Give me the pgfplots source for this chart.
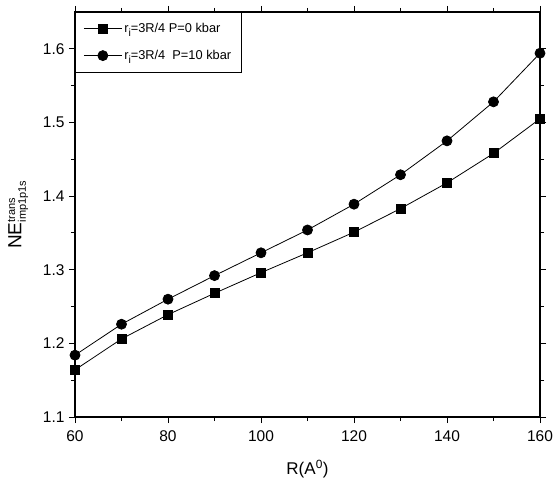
\documentclass[border=0pt]{standalone}
\usepackage{fontspec}
\setmainfont{Liberation Sans}
\usepackage{pgfplots}
\pgfplotsset{compat=1.18}
\newcommand{\ri}{r\raisebox{-4pt}{\fontsize{10.5}{12}\selectfont i}}
\begin{document}
\begin{tikzpicture}
\useasboundingbox (-75pt,-73pt) rectangle (478pt,417pt);
\begin{axis}[
  scale only axis, width=465pt, height=405pt,
  xmin=60, xmax=160, ymin=1.1, ymax=1.65,
  xtick={60,80,100,120,140,160}, minor xtick={70,90,110,130,150},
  ytick={1.1,1.2,1.3,1.4,1.5,1.6}, minor ytick={1.15,1.25,1.35,1.45,1.55},
  tick align=outside, major tick length=6pt, minor tick length=4pt,
  tick style={black, line width=0.9pt},
  axis line style={line width=1.3pt},
  /pgf/number format/assume math mode=true,
  /pgf/number format/fixed, /pgf/number format/precision=1,
  /pgf/number format/fixed zerofill,
  xticklabel style={/pgf/number format/precision=0, yshift=-4pt},
  yticklabel style={xshift=-1pt},
  tick label style={font=\fontsize{15.5}{17}\selectfont},
  xlabel={R(A\textsuperscript{0})},
  xlabel style={font=\fontsize{17}{20}\selectfont, yshift=-12pt},
  ylabel={NE$^{\mbox{\fontsize{11}{12}\selectfont trans}}_{\mbox{\fontsize{11}{12}\selectfont imp1p1s}}$},
  ylabel style={font=\fontsize{19}{22}\selectfont, yshift=8pt},
  legend style={at={(0,1)}, anchor=north west, draw=black, line width=0.9pt,
    font=\fontsize{12.8}{15}\selectfont, row sep=12pt, inner xsep=8pt, inner ysep=9pt,
    cells={anchor=west}},
  legend image code/.code={\draw[mark repeat=2,mark phase=2] plot coordinates {(0pt,0pt)(19pt,0pt)(38pt,0pt)};},
]
\addplot[black, line width=0.8pt, mark=square*, mark size=4.5pt, mark options={solid}] coordinates {
(60,1.164) (70,1.206) (80,1.239) (90,1.268) (100,1.296) (110,1.323)
(120,1.351) (130,1.383) (140,1.418) (150,1.458) (160,1.505)};
\addlegendentry{\ri=3R/4 P=0 kbar}
\addplot[black, line width=0.8pt, mark=*, mark size=5pt, mark options={solid}] coordinates {
(60,1.184) (70,1.226) (80,1.260) (90,1.292) (100,1.323) (110,1.354)
(120,1.389) (130,1.429) (140,1.475) (150,1.528) (160,1.594)};
\addlegendentry{\ri=3R/4\ \ P=10 kbar}
\end{axis}
\end{tikzpicture}
\end{document}
